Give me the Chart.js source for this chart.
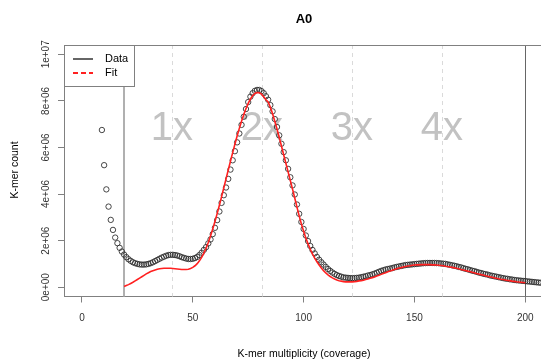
<!DOCTYPE html>
<html>
<head>
<meta charset="utf-8">
<script src="https://cdn.jsdelivr.net/npm/chart.js@4/dist/chart.umd.min.js"></script>
<style>
  html, body { margin: 0; padding: 0; background: #fff; overflow: hidden; }
  #wrap { width: 541px; height: 363px; }
</style>
</head>
<body>
<div id="wrap"><canvas id="chart" width="541" height="363"></canvas></div>
<script>
// k-mer histogram (counts in millions), x starts at 9
const covStart = 9;
const covCounts = [
  6.75,5.24,4.20,3.46,2.89,2.46,2.13,1.89,1.69,1.53,
  1.40,1.29,1.20,1.13,1.07,1.03,1.00,0.98,0.97,0.97,
  0.98,1.00,1.03,1.07,1.12,1.17,1.22,1.27,1.31,1.35,
  1.38,1.39,1.39,1.38,1.36,1.33,1.29,1.26,1.23,1.21,
  1.21,1.22,1.25,1.30,1.38,1.48,1.60,1.72,1.88,2.05,
  2.28,2.55,2.88,3.25,3.62,3.95,4.28,4.65,5.05,5.45,
  5.84,6.22,6.60,6.97,7.32,7.65,7.95,8.18,8.33,8.43,
  8.47,8.47,8.42,8.33,8.20,8.05,7.82,7.55,7.22,6.88,
  6.52,6.16,5.80,5.45,5.08,4.72,4.37,3.98,3.55,3.15,
  2.80,2.50,2.22,1.98,1.77,1.60,1.45,1.30,1.18,1.07,
  0.97,0.87,0.78,0.70,0.63,0.57,0.52,0.48,0.45,0.42,
  0.41,0.40,0.39,0.39,0.39,0.40,0.41,0.43,0.45,0.47,
  0.50,0.52,0.55,0.58,0.62,0.66,0.70,0.73,0.76,0.78,
  0.80,0.82,0.85,0.87,0.89,0.91,0.93,0.95,0.96,0.97,
  0.98,0.99,1.00,1.01,1.02,1.03,1.035,1.04,1.04,1.04,
  1.04,1.035,1.03,1.02,1.01,1.00,0.98,0.96,0.94,0.92,
  0.90,0.87,0.85,0.82,0.79,0.77,0.74,0.71,0.69,0.66,
  0.63,0.61,0.58,0.56,0.54,0.51,0.49,0.47,0.45,0.43,
  0.41,0.39,0.37,0.36,0.34,0.33,0.31,0.30,0.29,0.28,
  0.27,0.26,0.25,0.24,0.23,0.22,0.21,0.20,0.19
];

// model fit (millions), x starts at 19
const fitStart = 19;
const fitCounts = [
  0.03,0.07,0.11,0.16,0.21,0.27,0.33,0.39,0.45,0.51,
  0.57,0.62,0.67,0.71,0.74,0.77,0.79,0.80,0.81,0.81,
  0.81,0.81,0.80,0.79,0.78,0.77,0.76,0.76,0.76,0.77,
  0.80,0.85,0.92,1.01,1.13,1.28,1.46,1.67,1.92,2.20,
  2.50,2.82,3.16,3.52,3.89,4.27,4.65,5.03,5.41,5.78,
  6.14,6.49,6.82,7.13,7.41,7.67,7.89,8.08,8.22,8.32,
  8.36,8.35,8.29,8.18,8.05,7.95,7.72,7.45,7.13,6.79,
  6.43,6.06,5.69,5.32,4.95,4.58,4.21,3.83,3.44,3.06,
  2.71,2.40,2.11,1.86,1.63,1.43,1.25,1.09,0.95,0.82,
  0.71,0.61,0.53,0.46,0.40,0.35,0.31,0.28,0.26,0.24,
  0.23,0.23,0.23,0.23,0.24,0.25,0.27,0.28,0.30,0.33,
  0.35,0.38,0.41,0.44,0.48,0.51,0.55,0.59,0.62,0.66,
  0.69,0.73,0.76,0.79,0.82,0.84,0.87,0.89,0.91,0.92,
  0.94,0.95,0.96,0.96,0.97,0.97,0.97,0.97,0.97,0.96,
  0.96,0.95,0.94,0.93,0.92,0.90,0.89,0.87,0.85,0.83,
  0.81,0.79,0.76,0.74,0.72,0.69,0.67,0.64,0.62,0.59,
  0.57,0.54,0.52,0.49,0.47,0.45,0.43,0.40,0.38,0.36,
  0.34,0.33,0.31,0.29,0.28,0.26,0.25,0.23,0.22,0.21,
  0.20,0.19
];

const xTicks = [0, 50, 100, 150, 200];
const yTicks = [0, 2, 4, 6, 8, 10];
const yTickLabels = ['0e+00', '2e+06', '4e+06', '6e+06', '8e+06', '1e+07'];

// peak positions (multiples of k-mer coverage) and limits
const peakX = [40.6, 81.2, 121.8, 162.4];
const peakLabels = ['1x', '2x', '3x', '4x'];
const minCutoff = 19;
const maxCutoff = 200;

const covPoints = covCounts.map((v, i) => ({ x: covStart + i, y: v }));
const fitPoints = fitCounts.map((v, i) => ({ x: fitStart + i, y: v }));

const frameColor = '#808080';
const font = '"Liberation Sans", Arial, sans-serif';

const decorPlugin = {
    id: 'decor',
    beforeDatasetsDraw(chart) {
        const ctx = chart.ctx;
        const xs = chart.scales.x;
        const a = chart.chartArea;
        ctx.save();
        // peak labels
        ctx.fillStyle = '#c2c2c2';
        ctx.font = '40px ' + font;
        ctx.textAlign = 'center';
        ctx.textBaseline = 'middle';
        peakX.forEach((p, i) => ctx.fillText(peakLabels[i], xs.getPixelForValue(p), 129));
        // dashed peak lines
        ctx.strokeStyle = '#dadada';
        ctx.lineWidth = 1;
        ctx.setLineDash([4, 4]);
        peakX.forEach(p => {
            const px = Math.round(xs.getPixelForValue(p)) + 0.5;
            ctx.beginPath(); ctx.moveTo(px, a.top); ctx.lineTo(px, a.bottom); ctx.stroke();
        });
        ctx.setLineDash([]);
        // cutoff lines
        let px = Math.round(xs.getPixelForValue(minCutoff));
        ctx.strokeStyle = '#b0b0b0';
        ctx.lineWidth = 2;
        ctx.beginPath(); ctx.moveTo(px, a.top); ctx.lineTo(px, a.bottom); ctx.stroke();
        px = Math.round(xs.getPixelForValue(maxCutoff)) + 0.5;
        ctx.strokeStyle = '#666';
        ctx.lineWidth = 1;
        ctx.beginPath(); ctx.moveTo(px, a.top); ctx.lineTo(px, a.bottom); ctx.stroke();
        ctx.restore();
    },
    afterDraw(chart) {
        const ctx = chart.ctx;
        const xs = chart.scales.x;
        const ys = chart.scales.y;
        const a = chart.chartArea;
        ctx.save();
        // top frame line
        ctx.strokeStyle = frameColor;
        ctx.lineWidth = 1;
        ctx.beginPath(); ctx.moveTo(a.left, a.top + 0.5); ctx.lineTo(a.right, a.top + 0.5); ctx.stroke();

        // title
        ctx.fillStyle = '#000';
        ctx.font = 'bold 13px ' + font;
        ctx.textAlign = 'center';
        ctx.textBaseline = 'alphabetic';
        ctx.fillText('A0', 304, 23);

        // x title
        ctx.font = '10.5px ' + font;
        ctx.fillText('K-mer multiplicity (coverage)', 304, 357);

        // y title
        ctx.save();
        ctx.translate(18, 170);
        ctx.rotate(-Math.PI / 2);
        ctx.fillText('K-mer count', 0, 0);
        ctx.restore();

        // x tick labels
        ctx.fillStyle = '#333';
        ctx.font = '10px ' + font;
        ctx.textBaseline = 'middle';
        xTicks.forEach(t => ctx.fillText(String(t), xs.getPixelForValue(t), 318));

        // y tick labels (rotated, as in R)
        ctx.textBaseline = 'alphabetic';
        yTicks.forEach((t, i) => {
            ctx.save();
            ctx.translate(49, ys.getPixelForValue(t));
            ctx.rotate(-Math.PI / 2);
            ctx.fillText(yTickLabels[i], 0, 0);
            ctx.restore();
        });

        // legend
        const lx = a.left, ly = a.top, lw = 70, lh = 41;
        ctx.fillStyle = '#fff';
        ctx.fillRect(lx, ly, lw, lh);
        ctx.strokeStyle = frameColor;
        ctx.strokeRect(lx + 0.5, ly + 0.5, lw, lh);
        ctx.lineWidth = 2;
        ctx.strokeStyle = '#666';
        ctx.beginPath(); ctx.moveTo(73, 59); ctx.lineTo(93, 59); ctx.stroke();
        ctx.strokeStyle = '#ff2020';
        ctx.setLineDash([5, 3]);
        ctx.beginPath(); ctx.moveTo(73, 73); ctx.lineTo(93, 73); ctx.stroke();
        ctx.setLineDash([]);
        ctx.fillStyle = '#000';
        ctx.font = '11px ' + font;
        ctx.textAlign = 'left';
        ctx.textBaseline = 'middle';
        ctx.fillText('Data', 105, 59);
        ctx.fillText('Fit', 105, 73);
        ctx.restore();
    }
};

new Chart(document.getElementById('chart'), {
    type: 'scatter',
    data: {
        datasets: [
            {
                label: 'Fit',
                type: 'line',
                data: fitPoints,
                borderColor: '#ff2020',
                borderWidth: 1.6,
                pointRadius: 0,
                tension: 0,
                fill: false,
                order: 0
            },
            {
                label: 'Data',
                data: covPoints,
                pointStyle: 'circle',
                pointRadius: 2.7,
                pointBorderWidth: 1,
                pointBorderColor: 'rgba(40,40,40,0.85)',
                pointBackgroundColor: 'rgba(0,0,0,0)',
                order: 1
            }
        ]
    },
    options: {
        responsive: false,
        animation: false,
        layout: { autoPadding: false, padding: { top: 45, left: 0, right: 0, bottom: 0 } },
        plugins: { legend: { display: false }, tooltip: { enabled: false } },
        scales: {
            x: {
                type: 'linear',
                min: -8.1,
                max: 207.1,
                afterFit: s => { s.height = 66.5; },
                afterBuildTicks: s => { s.ticks = xTicks.map(v => ({ value: v })); },
                grid: { drawOnChartArea: false, tickLength: 6, color: frameColor },
                border: { color: frameColor },
                ticks: { display: false }
            },
            y: {
                type: 'linear',
                min: -0.4,
                max: 10.4,
                afterFit: s => { s.width = 64; },
                afterBuildTicks: s => { s.ticks = yTicks.map(v => ({ value: v })); },
                grid: { drawOnChartArea: false, tickLength: 6, color: frameColor },
                border: { color: frameColor },
                ticks: { display: false }
            }
        }
    },
    plugins: [decorPlugin]
});
</script>
</body>
</html>
